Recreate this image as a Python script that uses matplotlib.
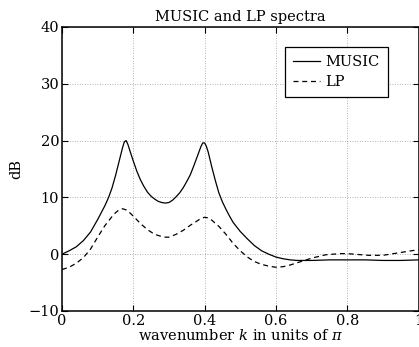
import numpy as np
import matplotlib
matplotlib.use('Agg')
import matplotlib.pyplot as plt

plt.rcParams['font.family'] = 'DejaVu Serif'
plt.rcParams['mathtext.fontset'] = 'dejavuserif'

# MUSIC pseudospectrum, dB vs wavenumber (units of pi)
k_music = [0, .02, .04, .06, .08, .10, .12, .13, .14, .15, .16, .17, .175, .18, .185,
           .19, .20, .21, .22, .23, .24, .25, .26, .27, .28, .29, .30, .31, .32, .33,
           .34, .35, .36, .37, .38, .39, .395, .40, .405, .41, .42, .43, .44, .45, .46,
           .47, .48, .49, .50, .52, .54, .56, .58, .60, .62, .64, .66, .70, .75, .80,
           .85, .90, .95, 1.0]
db_music = [0.0, 0.6, 1.3, 2.4, 3.9, 6.1, 8.5, 9.9, 11.6, 13.8, 16.3, 18.8, 19.8, 20.0, 19.3,
            18.3, 16.4, 14.6, 13.1, 11.9, 10.9, 10.2, 9.7, 9.3, 9.1, 9.0, 9.1, 9.5, 10.1, 10.8,
            11.7, 12.8, 14.0, 15.6, 17.3, 19.0, 19.6, 19.6, 19.0, 18.0, 15.4, 13.0, 10.8, 9.2, 7.9,
            6.7, 5.6, 4.8, 4.0, 2.7, 1.5, 0.6, 0.0, -0.5, -0.8, -1.0, -1.1, -1.1, -1.0, -1.0,
            -1.0, -1.1, -1.1, -1.0]

# linear prediction spectrum
k_lp = [0, .02, .04, .06, .08, .10, .12, .14, .15, .16, .17, .18, .19, .20, .22, .24,
        .26, .28, .29, .30, .32, .34, .36, .38, .39, .40, .41, .42, .44, .46, .48, .50,
        .52, .54, .56, .58, .60, .62, .64, .66, .68, .70, .72, .74, .76, .78, .80, .82,
        .84, .86, .88, .90, .92, .94, .96, .98, 1.0]
db_lp = [-2.7, -2.3, -1.6, -0.6, 0.9, 3.0, 5.0, 6.6, 7.3, 7.8, 8.0, 7.8, 7.3, 6.7, 5.4, 4.3,
         3.5, 3.1, 3.0, 3.0, 3.5, 4.2, 5.1, 5.9, 6.3, 6.5, 6.4, 6.0, 4.9, 3.5, 1.9, 0.6,
         -0.5, -1.3, -1.8, -2.1, -2.3, -2.2, -1.9, -1.5, -1.1, -0.7, -0.4, -0.1, 0.0, 0.1, 0.1, 0.0,
         -0.1, -0.2, -0.2, -0.2, 0.0, 0.2, 0.4, 0.6, 0.8]

xticks = [0, 0.2, 0.4, 0.6, 0.8, 1]
xticklabels = ['0', '0.2', '0.4', '0.6', '0.8', '1']
yticks = [-10, 0, 10, 20, 30, 40]

fig = plt.figure(figsize=(4.19, 3.47), dpi=100)
ax = fig.add_axes([62/419, 36/347, 356.5/419, 284/347])

ax.plot(k_music, db_music, 'k-', lw=0.9, label='MUSIC')
ax.plot(k_lp, db_lp, 'k--', lw=0.9, dashes=(4, 3), label='LP')

ax.set_xlim(0, 1)
ax.set_ylim(-10, 40)
ax.set_xticks(xticks)
ax.set_xticklabels(xticklabels)
ax.set_yticks(yticks)
ax.grid(True, ls=(0, (1, 2)), color='0.6', lw=0.6)
ax.tick_params(direction='in', top=True, right=True, length=4, width=0.8,
               labelsize=10.5, pad=2, colors='k')
for s in ax.spines.values():
    s.set_linewidth(1.1)

ax.set_title('MUSIC and LP spectra', fontsize=10.5, pad=4)
ax.set_xlabel('wavenumber $k$ in units of $\\pi$', fontsize=10.5, labelpad=0)
ax.set_ylabel('dB', fontsize=10.5, labelpad=4)

leg = ax.legend(loc='upper right', bbox_to_anchor=(0.914, 0.93), borderaxespad=0,
                fontsize=10.5, handlelength=1.8, handletextpad=0.4, borderpad=0.55,
                labelspacing=0.45, fancybox=False, framealpha=1, edgecolor='k')
leg.get_frame().set_linewidth(0.9)

fig.savefig('out.png', dpi=100)
